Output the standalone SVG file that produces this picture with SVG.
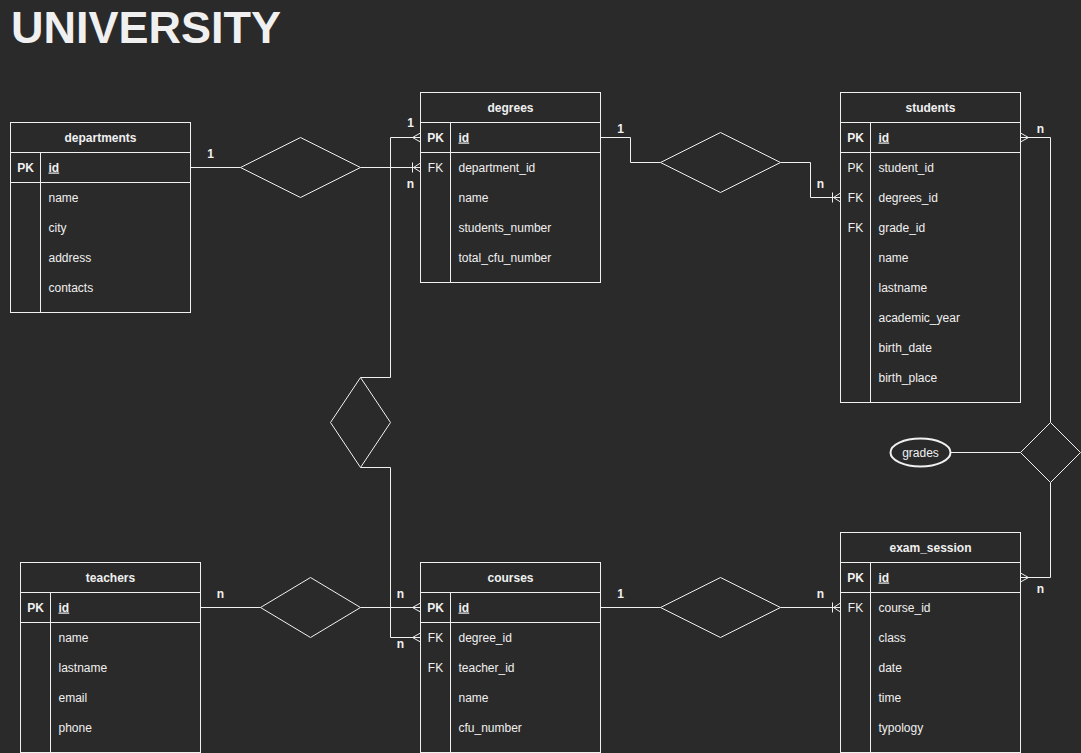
<svg xmlns="http://www.w3.org/2000/svg" width="1081" height="753" viewBox="0 0 1081 753">
<style>
.bg{fill:#2a2a2a}
.tb{fill:#2a2a2a;stroke:#f0f0f0;stroke-width:1}
.ln{stroke:#f0f0f0;stroke-width:1;fill:none}
.t{font-family:"Liberation Sans",Arial,Helvetica,sans-serif;font-size:12px;fill:#f0f0f0}
.b{font-weight:bold}
.u{text-decoration:underline}
.c{text-anchor:middle}
.dm{fill:#2a2a2a;stroke:#f0f0f0;stroke-width:1}
.many{marker-end:url(#many)}
.om{marker-end:url(#oneMany)}
.title{font-family:"Liberation Sans",Arial,Helvetica,sans-serif;font-size:45px;font-weight:bold;fill:#f0f0f0}
</style>
<defs>
<marker id="many" viewBox="-10 -6 11 12" refX="0" refY="0" markerWidth="11" markerHeight="12" markerUnits="userSpaceOnUse" orient="auto">
<path d="M-8 0 L0 -4.5 M-8 0 L0 4.5 M-8 0 L0 0" stroke="#f0f0f0" stroke-width="1" fill="none"/>
</marker>
<marker id="oneMany" viewBox="-10 -6 11 12" refX="0" refY="0" markerWidth="11" markerHeight="12" markerUnits="userSpaceOnUse" orient="auto">
<path d="M-7 0 L0 -4.5 M-7 0 L0 4.5 M-8 0 L0 0 M-8 -5 L-8 5" stroke="#f0f0f0" stroke-width="1" fill="none"/>
</marker>
</defs>
<rect class="bg" x="0" y="0" width="1081" height="753"/>
<text class="title" x="11" y="43">UNIVERSITY</text>

<g transform="translate(0.5,0.5)">
<g id="connectors">
<path class="ln" d="M190 167 H240"/>
<path class="ln om" d="M360 167 H420"/>
<path class="ln many" d="M360 377 H390 V137 H420"/>
<path class="ln many" d="M360 467 H390 V637 H420"/>
<path class="ln" d="M600 137 H630 V162 H660"/>
<path class="ln om" d="M780 162 H810 V197 H840"/>
<path class="ln many" d="M1050 422 V137 H1020"/>
<path class="ln many" d="M1050 482 V577 H1020"/>
<path class="ln" d="M950 452 H1020"/>
<path class="ln" d="M200 607 H260"/>
<path class="ln many" d="M360 607 H420"/>
<path class="ln" d="M600 607 H660"/>
<path class="ln om" d="M780 607 H840"/>
<g class="t b c">
<text x="210" y="157">1</text>
<text x="410" y="187">n</text>
<text x="410" y="126">1</text>
<text x="620" y="132">1</text>
<text x="820" y="187">n</text>
<text x="1040" y="132">n</text>
<text x="1040" y="592">n</text>
<text x="220" y="597">n</text>
<text x="400" y="597">n</text>
<text x="400" y="647">n</text>
<text x="620" y="597">1</text>
<text x="820" y="597">n</text>
</g>
</g>

<g id="rel-dept-degree"><polygon class="dm" points="240,167 300,137 360,167 300,197"/></g>
<g id="rel-degree-course"><polygon class="dm" points="360,377 390,422 360,467 330,422"/></g>
<g id="rel-degree-student"><polygon class="dm" points="660,162 720,132 780,162 720,192"/></g>
<g id="rel-student-exam"><polygon class="dm" points="1050,422 1080,452 1050,482 1020,452"/></g>
<g id="rel-teacher-course"><polygon class="dm" points="260,607 310,577 360,607 310,637"/></g>
<g id="rel-course-exam"><polygon class="dm" points="660,607 720,577 780,607 720,637"/></g>

<g id="grades">
<ellipse cx="920" cy="452" rx="30" ry="14" fill="#2a2a2a" stroke="#f0f0f0" stroke-width="2"/>
<text class="t c" x="920" y="456">grades</text>
</g>

<g id="departments">
<rect class="tb" x="10" y="122" width="180" height="190"/>
<path class="ln" d="M10 152 H190 M10 182 H190 M40 152 V312"/>
<text class="t b c" x="100" y="141">departments</text>
<text class="t b c" x="25" y="171">PK</text>
<text class="t b u" x="48" y="171">id</text>
<text class="t" x="48" y="201">name</text>
<text class="t" x="48" y="231">city</text>
<text class="t" x="48" y="261">address</text>
<text class="t" x="48" y="291">contacts</text>
</g>

<g id="degrees">
<rect class="tb" x="420" y="92" width="180" height="190"/>
<path class="ln" d="M420 122 H600 M420 152 H600 M450 122 V282"/>
<text class="t b c" x="510" y="111">degrees</text>
<text class="t b c" x="435" y="141">PK</text>
<text class="t b u" x="458" y="141">id</text>
<text class="t c" x="435" y="171">FK</text>
<text class="t" x="458" y="171">department_id</text>
<text class="t" x="458" y="201">name</text>
<text class="t" x="458" y="231">students_number</text>
<text class="t" x="458" y="261">total_cfu_number</text>
</g>

<g id="students">
<rect class="tb" x="840" y="92" width="180" height="310"/>
<path class="ln" d="M840 122 H1020 M840 152 H1020 M870 122 V402"/>
<text class="t b c" x="930" y="111">students</text>
<text class="t b c" x="855" y="141">PK</text>
<text class="t b u" x="878" y="141">id</text>
<text class="t c" x="855" y="171">PK</text>
<text class="t" x="878" y="171">student_id</text>
<text class="t c" x="855" y="201">FK</text>
<text class="t" x="878" y="201">degrees_id</text>
<text class="t c" x="855" y="231">FK</text>
<text class="t" x="878" y="231">grade_id</text>
<text class="t" x="878" y="261">name</text>
<text class="t" x="878" y="291">lastname</text>
<text class="t" x="878" y="321">academic_year</text>
<text class="t" x="878" y="351">birth_date</text>
<text class="t" x="878" y="381">birth_place</text>
</g>

<g id="exam_session">
<rect class="tb" x="840" y="532" width="180" height="220"/>
<path class="ln" d="M840 562 H1020 M840 592 H1020 M870 562 V752"/>
<text class="t b c" x="930" y="551">exam_session</text>
<text class="t b c" x="855" y="581">PK</text>
<text class="t b u" x="878" y="581">id</text>
<text class="t c" x="855" y="611">FK</text>
<text class="t" x="878" y="611">course_id</text>
<text class="t" x="878" y="641">class</text>
<text class="t" x="878" y="671">date</text>
<text class="t" x="878" y="701">time</text>
<text class="t" x="878" y="731">typology</text>
</g>

<g id="courses">
<rect class="tb" x="420" y="562" width="180" height="190"/>
<path class="ln" d="M420 592 H600 M420 622 H600 M450 592 V752"/>
<text class="t b c" x="510" y="581">courses</text>
<text class="t b c" x="435" y="611">PK</text>
<text class="t b u" x="458" y="611">id</text>
<text class="t c" x="435" y="641">FK</text>
<text class="t" x="458" y="641">degree_id</text>
<text class="t c" x="435" y="671">FK</text>
<text class="t" x="458" y="671">teacher_id</text>
<text class="t" x="458" y="701">name</text>
<text class="t" x="458" y="731">cfu_number</text>
</g>

<g id="teachers">
<rect class="tb" x="20" y="562" width="180" height="190"/>
<path class="ln" d="M20 592 H200 M20 622 H200 M50 592 V752"/>
<text class="t b c" x="110" y="581">teachers</text>
<text class="t b c" x="35" y="611">PK</text>
<text class="t b u" x="58" y="611">id</text>
<text class="t" x="58" y="641">name</text>
<text class="t" x="58" y="671">lastname</text>
<text class="t" x="58" y="701">email</text>
<text class="t" x="58" y="731">phone</text>
</g>
</g>
</svg>
